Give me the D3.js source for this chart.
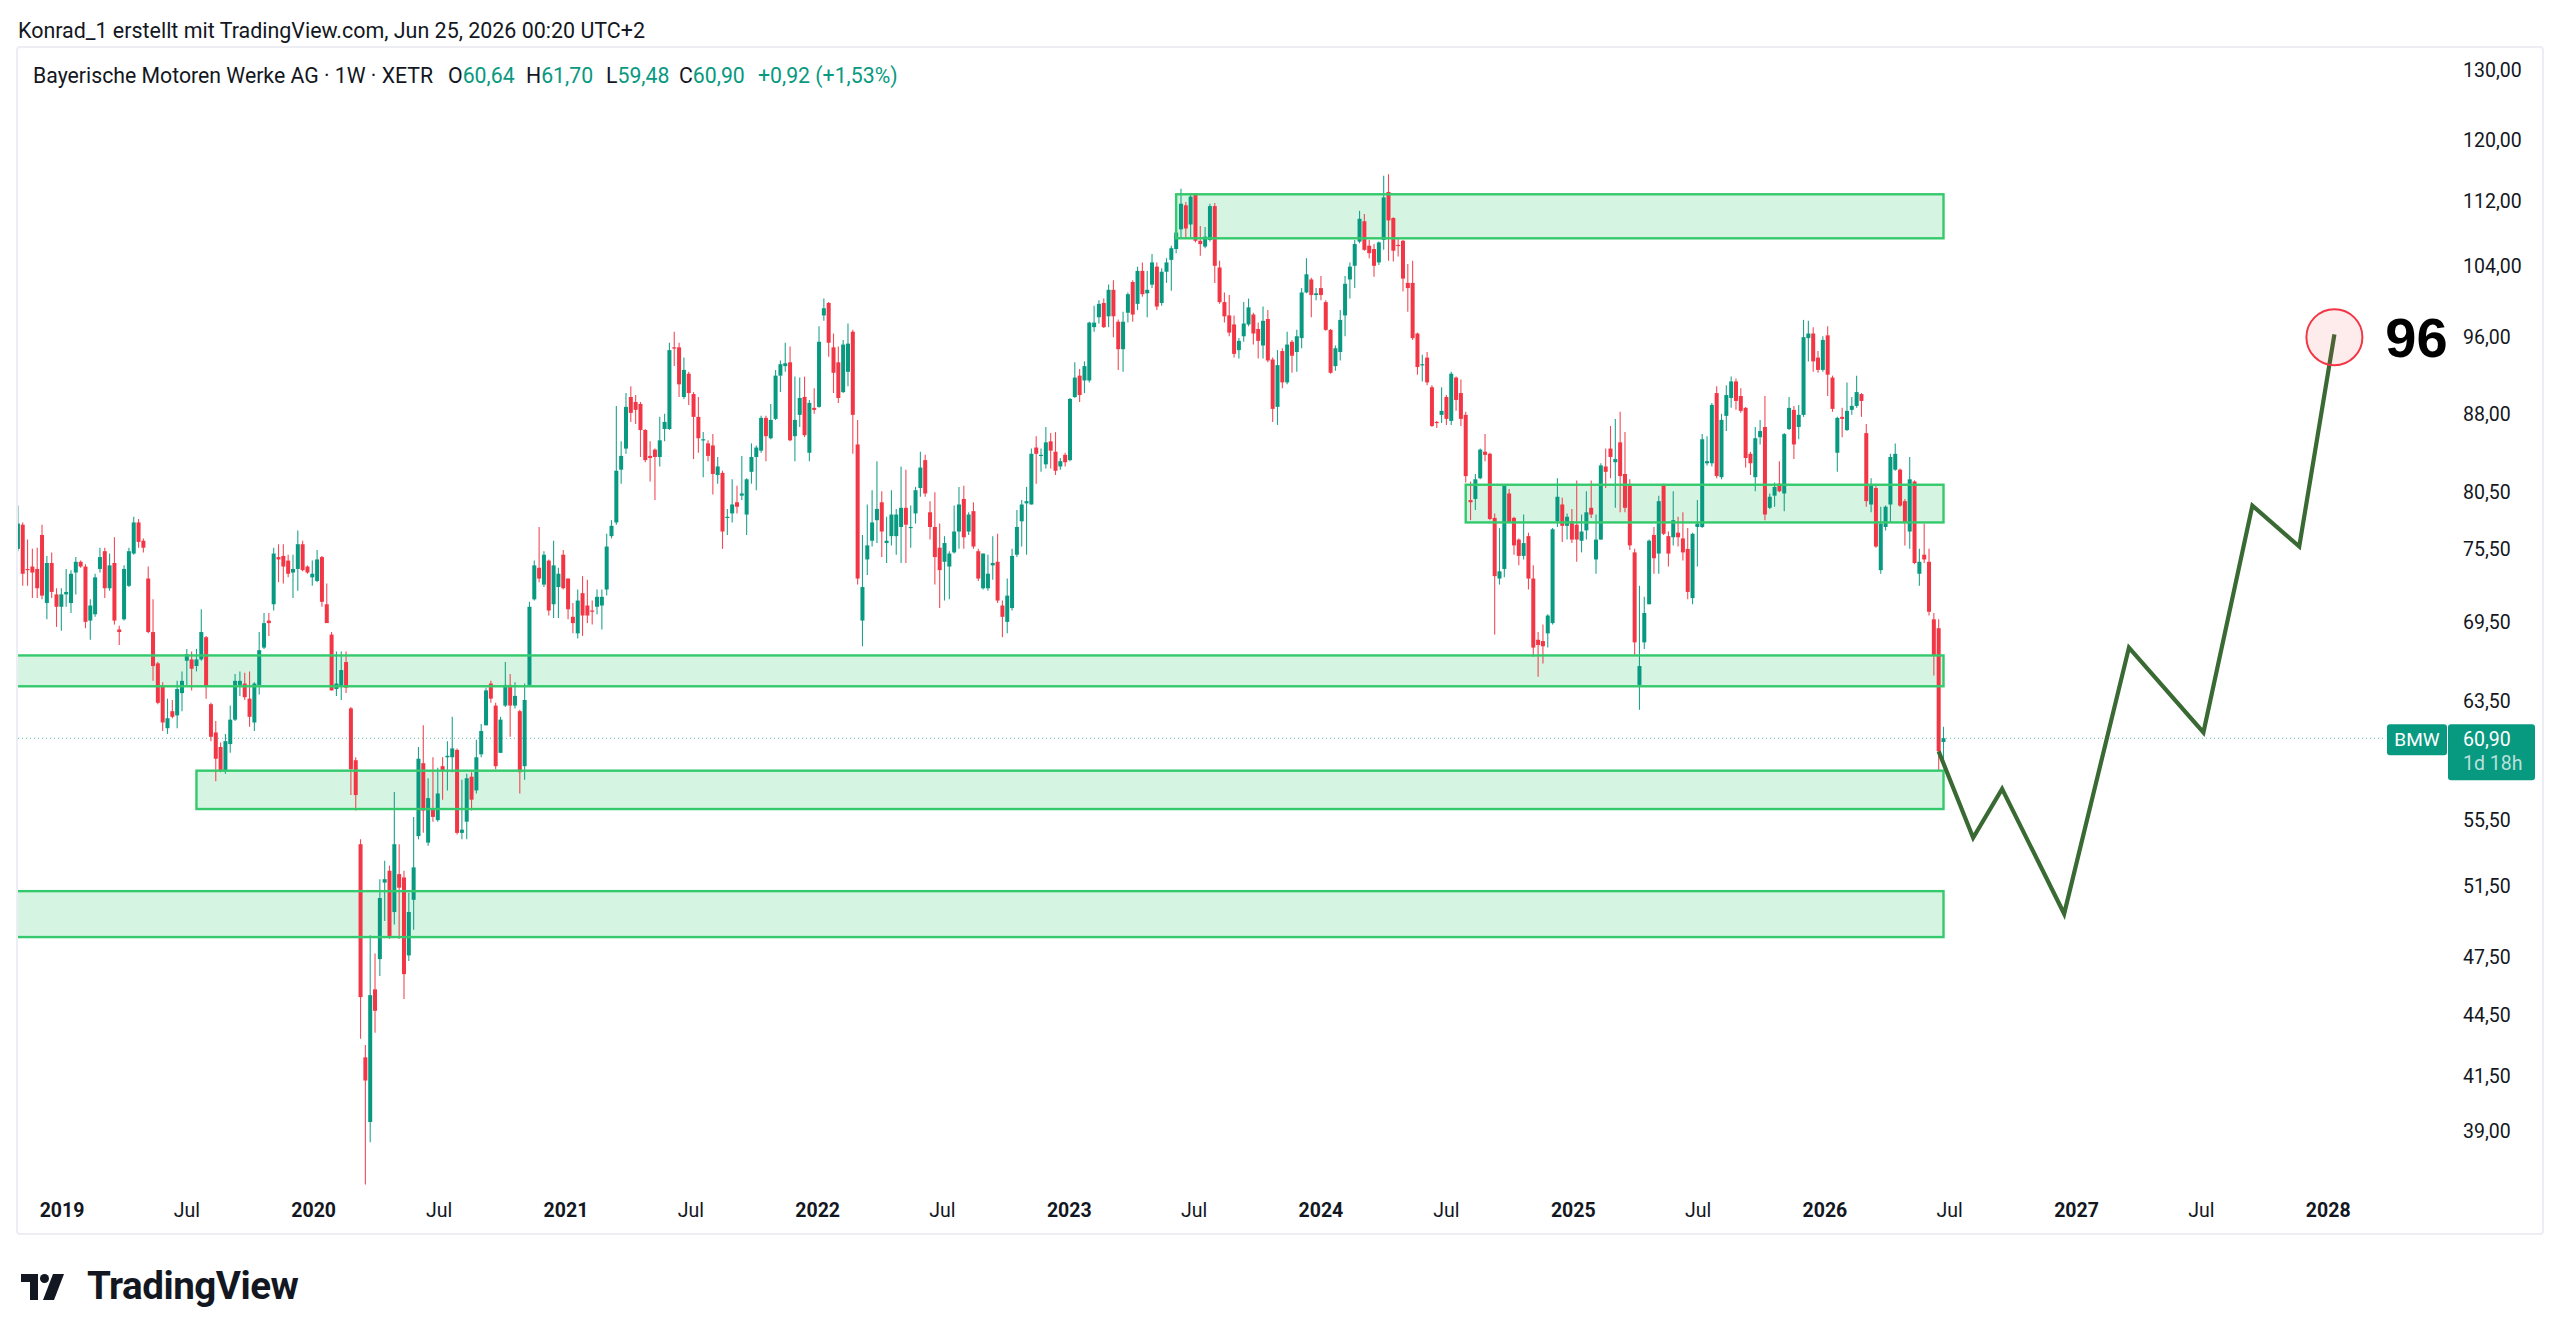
<!DOCTYPE html>
<html lang="de">
<head>
<meta charset="UTF-8">
<title>BMW 1W - TradingView</title>
<script src="https://d3js.org/d3.v7.min.js"></script>
<style>
  body { margin: 0; background: #fff; }
  svg { display: block; font-family: Roboto, "Noto Sans", sans-serif; }
</style>
</head>
<body>
<svg id="chart" width="2560" height="1340"></svg>
<script>
// weekly candles, first bar = week of 29 Oct 2018, last bar = week of 22 Jun 2026
const firstWeek = "2018-10-29";

const opens = [
  75.5,77.6,73.8,74.0,73.8,76.7,71.0,74.3,71.7,70.7, 71.7,71.0,73.5,74.4,74.0,69.6,70.1,73.8,75.3,72.2,
  74.3,68.9,69.7,72.4,75.1,77.8,76.2,73.0,68.7,66.3, 64.6,61.6,62.8,62.5,64.1,66.5,66.6,66.1,66.6,68.3,
  63.3,61.3,60.3,58.7,60.5,62.2,64.7,64.8,63.7,62.0, 64.7,67.5,69.6,70.9,74.8,74.9,74.5,73.5,73.8,75.9,
  74.0,73.1,72.8,74.8,70.9,68.5,64.4,64.6,66.4,63.0, 59.4,54.0,42.4,39.4,45.8,47.4,51.7,52.4,50.0,52.2,
  52.0,47.6,50.7,54.5,59.2,54.1,56.2,55.5,59.0,59.6, 59.6,60.1,54.7,55.4,58.3,57.4,59.8,61.8,64.8,63.2,
  59.9,63.2,64.7,63.2,62.8,59.0,64.7,71.3,73.9,72.5, 74.5,70.9,72.3,75.0,73.0,69.9,68.6,71.8,70.8,70.4,
  70.7,70.8,72.1,76.6,77.8,82.6,84.6,89.7,89.2,89.0, 86.4,83.9,84.5,83.8,86.5,86.5,94.9,94.9,89.7,92.1,
  90.0,87.7,85.4,85.1,84.9,82.1,82.3,78.2,78.6,79.6, 80.2,78.5,82.4,83.8,84.4,87.6,85.6,87.5,91.9,92.9,
  93.3,85.8,87.9,89.7,84.2,88.6,88.7,98.4,99.8,94.9, 93.3,90.2,92.3,96.6,85.0,69.6,74.6,76.2,78.0,79.6,
  76.0,76.6,76.6,77.4,79.1,77.3,78.6,80.9,83.5,78.7, 77.4,75.6,74.4,74.0,75.2,77.0,79.9,77.0,78.8,75.3,
  72.2,72.2,74.1,74.4,70.8,69.5,70.6,75.0,77.9,79.5, 79.4,84.7,83.9,83.1,85.3,84.3,82.9,84.0,83.5,89.7,
  91.9,91.4,91.4,97.1,98.2,99.8,98.3,101.3,97.7,94.7, 98.7,102.2,99.7,103.5,100.9,101.9,104.0,99.8,103.4,104.8,
  106.1,108.5,111.5,109.1,113.0,107.1,106.4,107.2,111.4,103.9, 99.9,98.4,97.4,94.6,96.1,97.4,98.5,96.9,95.1,98.0,
  93.6,88.7,94.5,91.2,95.5,94.4,95.9,101.0,102.5,100.7, 101.5,99.9,96.8,92.9,94.4,98.4,102.5,104.1,107.0,109.5,
  106.5,106.1,104.5,107.2,113.2,109.9,106.6,107.1,102.1,102.1, 96.4,93.0,93.8,90.7,87.2,87.9,89.7,87.3,91.7,90.1,
  87.9,79.8,79.9,81.8,84.3,84.1,78.2,73.0,73.8,80.4, 78.2,76.3,74.9,76.6,73.0,68.1,68.0,68.6,69.4,77.9,
  79.4,77.5,77.9,77.6,76.2,77.1,79.1,74.6,76.3,82.9, 84.6,83.3,85.2,82.2,81.1,75.2,64.7,67.9,70.9,76.7,
  75.1,81.2,76.6,76.5,76.9,76.4,75.5,71.4,77.4,77.4, 83.2,83.2,90.1,81.9,87.8,89.6,91.3,89.8,88.6,84.1,
  81.9,85.7,86.7,79.1,80.2,81.3,80.4,86.5,88.4,86.7, 87.9,95.9,96.4,93.8,92.5,96.2,91.7,84.2,87.7,86.4,
  88.4,88.8,90.0,86.1,79.4,80.9,73.7,77.4,79.4,82.6, 82.6,79.7,77.0,81.5,73.4,75.0,74.4,69.7,69.0,60.64
];
const highs = [
  79.3,77.8,76.3,75.5,75.6,77.6,74.9,75.2,72.2,72.2, 73.8,73.7,74.8,74.5,74.2,71.3,73.4,75.6,75.6,75.1,
  76.5,69.2,74.1,75.6,78.3,78.1,76.4,74.0,71.3,66.4, 64.9,63.7,63.6,65.0,65.7,67.4,67.2,67.4,70.5,68.4,
  63.4,62.1,60.6,61.2,63.2,65.5,65.7,65.6,65.7,64.9, 68.7,70.2,70.2,75.6,75.9,75.9,75.0,75.0,77.1,76.2,
  74.1,74.5,75.4,74.9,72.6,68.7,67.2,67.2,67.2,63.1, 59.6,54.3,43.0,48.7,47.7,51.9,53.0,52.7,57.3,54.0,
  52.4,51.1,55.7,60.3,61.8,58.2,59.6,58.9,59.6,60.7, 62.4,60.2,58.1,58.5,58.6,60.8,61.9,64.5,65.0,63.4,
  62.4,66.4,65.5,64.9,62.9,64.8,71.1,74.5,77.4,75.3, 74.6,76.2,73.9,75.4,73.0,71.0,72.1,73.2,72.9,71.2,
  72.1,72.1,76.8,78.0,88.8,85.3,90.1,90.8,89.9,89.2, 86.5,85.3,84.6,87.7,88.0,95.4,96.6,95.4,93.8,92.3,
  90.2,89.7,86.2,85.4,86.0,83.8,82.5,79.0,81.7,81.1, 83.9,81.8,85.1,84.9,87.8,87.8,89.0,92.5,93.5,95.4,
  95.0,91.8,91.7,91.8,89.4,90.6,97.2,100.3,99.9,96.4, 95.0,95.7,97.5,96.8,87.4,76.7,79.4,80.7,83.4,80.6,
  78.3,80.7,79.0,82.9,82.6,79.3,81.0,84.3,84.0,79.7, 80.5,77.7,76.6,75.3,79.3,81.0,81.1,78.7,79.6,75.5,
  75.1,75.0,76.6,76.8,71.2,73.0,75.5,78.9,79.8,81.0, 84.6,85.8,84.6,86.7,86.1,86.2,83.7,84.2,89.6,93.3,
  92.6,93.4,97.7,99.5,100.1,100.3,101.9,102.4,97.95,98.8, 101.0,102.4,104.0,104.5,103.5,105.5,104.5,103.8,105.0,106.5,
  108.9,113.6,111.9,113.0,113.0,108.9,108.8,111.7,111.8,104.7, 101.0,100.7,98.4,95.9,99.9,100.3,98.7,97.6,99.4,99.0,
  93.8,94.6,94.8,96.6,95.7,96.8,101.5,105.0,102.7,101.5, 102.9,100.1,96.9,95.1,99.0,102.9,104.5,107.2,110.8,110.4,
  107.2,106.7,107.0,115.3,115.5,110.0,107.4,107.2,104.3,104.7, 96.5,94.1,94.4,90.9,87.3,90.7,89.9,92.3,91.8,91.5,
  88.2,81.5,82.2,84.6,86.0,84.2,78.6,77.3,81.2,80.8, 78.3,76.4,78.5,76.9,74.1,68.7,69.3,70.1,77.3,81.8,
  80.0,78.6,79.0,81.6,78.5,80.6,81.6,78.5,83.2,84.6, 86.8,87.5,88.2,86.2,81.7,75.5,72.4,71.5,76.3,77.4,
  80.2,81.3,77.0,80.6,78.3,78.7,77.3,76.9,79.8,86.0, 85.8,89.1,90.8,88.0,90.9,91.8,91.6,90.6,88.7,84.3,
  86.7,87.4,89.8,80.4,81.4,83.4,86.1,89.7,88.8,88.9, 97.9,97.8,97.1,94.5,96.1,97.2,91.9,87.7,88.6,91.2,
  89.7,91.9,90.1,87.0,81.8,81.1,79.2,79.3,84.1,85.1, 82.7,79.9,83.8,81.6,75.5,77.7,75.5,70.2,69.7,61.70
];
const lows = [
  75.3,72.4,72.4,71.4,71.4,71.3,69.7,71.4,69.1,68.8, 70.7,70.2,71.7,73.9,69.0,68.1,69.9,73.5,71.4,72.0,
  69.3,67.7,69.6,72.3,75.0,75.6,75.2,68.6,65.0,63.3, 61.4,61.2,62.3,61.6,62.8,64.7,64.3,65.7,66.5,63.7,
  60.7,58.0,58.6,58.5,59.9,62.1,63.9,63.6,61.7,61.4, 64.0,67.4,68.4,70.4,72.7,72.6,73.1,71.4,72.0,73.6,
  73.4,72.4,72.7,70.7,69.4,64.3,63.9,63.6,64.1,57.1, 56.1,43.3,36.7,38.5,43.6,46.5,49.5,48.5,49.3,48.5,
  45.3,47.3,49.0,54.3,54.7,53.9,55.4,55.4,56.8,57.4, 58.6,54.6,54.3,54.3,56.1,57.2,59.6,61.8,63.4,58.8,
  59.9,63.1,61.0,63.0,57.2,58.1,64.6,71.2,72.7,72.3, 70.0,69.8,69.8,72.1,69.7,68.6,68.2,68.4,69.4,69.3,
  70.1,68.9,71.6,76.4,77.6,81.3,84.1,87.2,87.0,83.8, 83.3,81.5,79.8,82.9,85.3,86.4,92.9,89.7,89.5,88.9,
  83.6,84.2,81.9,83.4,80.3,81.3,75.5,76.7,77.8,78.6, 79.8,76.7,81.3,80.7,84.2,83.4,85.5,87.4,90.2,92.3,
  85.3,83.4,86.7,85.7,83.4,88.0,88.6,97.8,93.9,90.1, 89.1,90.1,90.8,84.1,72.5,67.6,73.3,75.7,76.0,74.8,
  74.3,75.8,75.0,74.3,74.3,75.6,77.7,80.1,80.1,76.3, 72.5,70.6,71.2,71.3,75.1,75.5,75.5,76.7,75.5,72.8,
  72.1,72.0,72.9,71.0,68.3,68.6,70.4,74.8,75.7,75.0, 79.4,81.3,82.4,82.7,82.7,82.1,82.6,82.9,83.4,89.6,
  89.2,90.1,91.2,96.6,97.5,97.0,97.1,96.0,92.5,92.3, 97.6,97.7,99.0,100.5,98.2,101.5,99.0,99.5,102.1,101.2,
  105.6,107.4,107.5,107.5,106.9,105.3,106.2,107.0,102.1,99.7, 97.6,96.1,93.8,93.7,95.5,97.2,95.2,93.7,93.7,93.3,
  87.2,86.9,90.6,91.0,92.2,92.3,94.8,100.9,98.2,100.1, 100.1,96.7,92.1,92.4,93.5,96.1,100.3,101.5,106.8,105.9,
  105.0,102.8,104.2,106.0,104.7,104.6,105.2,101.1,98.8,95.7, 92.0,91.3,90.9,86.7,86.6,87.1,86.9,86.9,88.3,86.8,
  81.4,78.0,78.9,81.7,83.4,78.0,68.5,72.5,73.1,77.8, 75.0,74.1,74.6,72.1,66.8,65.3,66.3,67.5,69.3,77.4,
  76.1,76.3,76.0,74.4,75.2,76.3,78.2,73.4,76.3,80.9, 81.8,79.1,78.7,78.7,75.4,66.9,62.9,67.4,70.9,73.4,
  73.4,76.7,74.0,75.8,75.7,74.5,71.3,70.9,74.0,77.3, 83.0,82.9,81.8,81.7,86.3,88.6,88.4,88.1,82.8,82.1,
  80.6,85.0,78.0,79.0,79.2,80.5,78.8,86.4,83.6,85.5, 87.7,93.4,92.3,92.2,92.3,89.8,88.2,82.4,85.7,86.3,
  87.9,88.6,87.7,79.2,78.7,75.6,73.4,77.1,77.8,82.5, 79.2,75.8,75.5,74.2,72.4,74.3,70.0,65.4,58.7,59.48
];
const closes = [
  77.7,73.4,73.7,73.5,72.2,71.6,74.3,71.9,70.7,71.7, 71.9,73.4,74.4,74.0,69.5,70.8,73.1,74.8,72.2,74.1,
  69.6,68.7,73.8,75.3,77.8,76.1,75.6,68.7,66.1,63.4, 62.0,62.3,62.4,64.4,65.0,67.0,65.9,66.6,68.7,64.6,
  61.0,59.5,58.7,60.7,62.2,65.0,65.0,63.8,62.4,64.8, 67.3,69.4,69.4,75.1,74.6,74.0,73.4,73.8,75.9,73.7,
  73.5,73.4,74.6,71.1,69.4,64.3,64.8,65.8,64.5,58.8, 57.1,45.4,41.3,45.5,44.7,50.8,51.9,48.6,54.0,51.4,
  46.6,50.0,52.6,59.5,56.1,56.9,55.7,57.2,58.7,59.7, 60.2,54.7,54.9,58.2,56.8,59.6,61.4,64.3,63.7,59.0,
  62.2,64.7,63.2,63.9,58.6,63.6,70.7,74.1,73.0,75.0, 70.4,74.1,73.4,72.2,70.5,69.4,71.2,70.0,70.0,70.3,
  71.5,71.5,75.7,77.5,82.5,83.9,88.7,88.1,88.4,86.4, 83.5,83.7,83.8,85.4,87.2,94.6,94.8,91.0,92.5,90.1,
  87.7,85.6,85.5,83.9,82.2,82.9,77.0,78.3,79.4,79.2, 80.4,81.7,83.8,84.7,87.6,85.8,87.4,91.9,93.1,93.2,
  85.4,87.4,89.6,85.9,89.1,88.4,95.5,99.2,95.4,92.2, 89.6,95.2,95.3,87.9,73.0,72.3,75.8,77.8,79.0,77.0,
  76.2,78.5,78.5,79.1,77.6,77.4,80.7,82.8,80.4,77.4, 74.8,73.7,76.0,75.1,77.0,79.4,76.5,78.5,75.7,73.0,
  75.1,73.4,74.3,71.2,69.9,71.6,74.9,77.4,79.4,79.7, 84.1,84.1,84.0,85.2,84.4,82.5,83.4,83.3,89.5,91.7,
  89.9,92.9,97.6,97.6,99.7,97.1,101.3,98.3,94.7,97.7, 100.8,98.5,103.5,100.8,101.3,104.5,99.4,103.4,104.5,106.2,
  108.1,111.7,108.6,112.6,107.1,106.7,107.6,111.4,104.1,99.9, 98.3,96.5,94.2,95.6,97.5,99.3,96.4,95.6,97.8,93.5,
  88.5,93.0,91.2,95.2,94.0,96.1,101.0,103.1,100.7,100.9, 100.7,96.8,92.2,94.8,97.9,102.0,104.0,106.7,109.8,106.0,
  105.6,104.1,106.9,112.5,109.6,105.9,106.5,102.6,101.5,95.9, 92.8,93.1,91.2,86.8,87.1,88.3,87.5,92.1,89.4,87.5,
  82.0,79.6,81.7,84.5,84.0,78.1,73.2,73.6,81.1,77.8, 75.8,74.9,76.0,73.0,67.5,67.7,67.6,70.0,77.2,80.1,
  77.5,78.3,76.3,76.3,77.0,78.7,78.5,76.3,83.0,82.4, 83.8,83.6,82.0,79.1,75.8,67.9,66.1,70.2,76.2,74.7,
  79.7,76.8,75.1,78.0,76.5,75.2,71.9,76.8,77.7,85.5, 83.4,88.9,82.0,87.4,89.9,91.3,89.3,88.3,83.7,83.2,
  85.6,86.3,78.5,80.1,81.0,80.6,86.0,88.6,85.0,87.9, 96.0,96.4,93.4,92.5,95.7,92.0,88.5,87.6,87.5,88.3,
  88.8,90.2,89.3,79.7,81.1,75.7,77.7,79.2,83.8,84.1, 79.3,77.8,81.7,74.3,74.4,74.6,70.3,66.9,60.0,60.90
];

const priceTicks = [130, 120, 112, 104, 96, 88, 80.5, 75.5, 69.5, 63.5, 55.5, 51.5, 47.5, 44.5, 41.5, 39];
const yearLabels = ["2019", "2020", "2021", "2022", "2023", "2024", "2025", "2026", "2027", "2028"];
const julyYears = [2019, 2020, 2021, 2022, 2023, 2024, 2025, 2026, 2027];

// support / resistance boxes
const zoneStart = ["2018-09-01", "2019-07-15", "2018-09-01", "2023-06-05", "2024-07-29"];
const zoneEnd   = ["2026-06-22", "2026-06-22", "2026-06-22", "2026-06-22", "2026-06-22"];
const zoneLow   = [48.6, 56.2, 64.6, 107.4, 77.8];
const zoneHigh  = [51.2, 58.7, 66.9, 112.9, 81.2];

// projected path
const pathDates  = ["2026-06-15", "2026-08-04", "2026-09-15", "2026-12-14", "2027-03-18", "2027-07-04", "2027-09-13", "2027-11-20", "2028-01-10"];
const pathValues = [60.0, 54.4, 57.5, 49.9, 67.5, 61.3, 79.3, 75.7, 96.3];
const targetDate = "2028-01-10";
const targetValue = 96;

const lastPrice = 60.90;

const UP = "#089981", DOWN = "#F23645", TXT = "#131722";

const svg = d3.select("#chart");

const x = d3.scaleUtc()
  .domain([new Date("2018-10-29"), new Date("2026-06-22")])
  .range([17.9, 1943.5]);
const y = d3.scaleLog().domain([130, 39]).range([70, 1131]);

const fmt = v => d3.format(".2f")(v).replace(".", ",");

function fit(sel, w) {
  const cur = sel.node().getComputedTextLength();
  const fs = parseFloat(sel.attr("font-size"));
  if (cur > 0) sel.attr("font-size", (fs * w / cur).toFixed(2));
  return sel;
}

// header
fit(svg.append("text")
  .attr("x", 18).attr("y", 30).attr("dy", "0.35em")
  .attr("font-size", 18).attr("fill", TXT)
  .text("Konrad_1 erstellt mit TradingView.com, Jun 25, 2026 00:20 UTC+2"), 627);

// chart frame
svg.append("rect")
  .attr("x", 17).attr("y", 47).attr("width", 2526).attr("height", 1187)
  .attr("rx", 3).attr("fill", "#fff").attr("stroke", "#eceef3").attr("stroke-width", 2);

svg.append("clipPath").attr("id", "plot")
  .append("rect").attr("x", 18).attr("y", 48).attr("width", 2430).attr("height", 1142);

const plot = svg.append("g").attr("clip-path", "url(#plot)");

const zones = zoneStart.map((s, i) => ({
  x0: x(new Date(s)), x1: x(new Date(zoneEnd[i])), y0: y(zoneHigh[i]), y1: y(zoneLow[i])
}));

plot.append("g").selectAll("rect").data(zones).join("rect")
  .attr("x", d => d.x0).attr("y", d => d.y0)
  .attr("width", d => d.x1 - d.x0).attr("height", d => d.y1 - d.y0)
  .attr("fill", "#d5f5e2");

// candles
const start = new Date(firstWeek);
const candles = opens.map((o, i) => ({
  date: d3.utcDay.offset(start, i * 7), o, h: highs[i], l: lows[i], c: closes[i]
}));

const cg = plot.append("g");
cg.selectAll("line").data(candles).join("line")
  .attr("x1", d => x(d.date)).attr("x2", d => x(d.date))
  .attr("y1", d => y(d.h)).attr("y2", d => y(d.l))
  .attr("stroke", d => d.c >= d.o ? UP : DOWN)
  .attr("stroke-opacity", 0.9)
  .attr("stroke-width", 1.1);

cg.selectAll("rect").data(candles).join("rect")
  .attr("x", d => x(d.date) - 2)
  .attr("width", 4)
  .attr("y", d => y(Math.max(d.o, d.c)))
  .attr("height", d => Math.max(1.2, Math.abs(y(d.o) - y(d.c))))
  .attr("fill", d => d.c >= d.o ? UP : DOWN);

plot.append("g").selectAll("rect").data(zones).join("rect")
  .attr("x", d => d.x0).attr("y", d => d.y0)
  .attr("width", d => d.x1 - d.x0).attr("height", d => d.y1 - d.y0)
  .attr("fill", "none").attr("stroke", "#34c96c").attr("stroke-width", 2.4);

// last price dotted line
svg.append("line")
  .attr("x1", 18).attr("x2", 2386)
  .attr("y1", y(lastPrice)).attr("y2", y(lastPrice))
  .attr("stroke", UP).attr("stroke-opacity", 0.7)
  .attr("stroke-width", 1).attr("stroke-dasharray", "1 3");

// projection
const pts = pathDates.map((d, i) => [x(new Date(d)), y(pathValues[i])]);
svg.append("path")
  .attr("d", d3.line()(pts))
  .attr("fill", "none").attr("stroke", "#3a6a33")
  .attr("stroke-width", 4.2).attr("stroke-linejoin", "miter");

const tx = x(new Date(targetDate)), ty = y(targetValue);
svg.append("circle")
  .attr("cx", tx).attr("cy", ty).attr("r", 28)
  .attr("fill", "rgba(242,54,69,0.1)").attr("stroke", DOWN).attr("stroke-width", 2);
svg.append("text")
  .attr("x", tx + 82).attr("y", ty).attr("dy", "0.36em")
  .attr("text-anchor", "middle")
  .attr("font-family", "'Liberation Sans', Arial, sans-serif")
  .attr("font-weight", 700).attr("font-size", 56).attr("fill", "#000")
  .text(String(targetValue));

// legend line
const legendY = 76;
const title = svg.append("text")
  .attr("x", 33).attr("y", legendY).attr("dy", "0.35em")
  .attr("font-size", 18).attr("fill", TXT)
  .text("Bayerische Motoren Werke AG \u00b7 1W \u00b7 XETR");
fit(title, 400);
const lfs = title.attr("font-size");

const legendItems = [
  { k: "O", v: "60,64", x: 448 },
  { k: "H", v: "61,70", x: 526 },
  { k: "L", v: "59,48", x: 606 },
  { k: "C", v: "60,90", x: 679 },
  { k: "", v: "+0,92 (+1,53%)", x: 758 }
];
legendItems.forEach(it => {
  const t = svg.append("text")
    .attr("x", it.x).attr("y", legendY).attr("dy", "0.35em")
    .attr("font-size", lfs);
  t.append("tspan").attr("fill", TXT).text(it.k);
  t.append("tspan").attr("fill", UP).text(it.v);
});

// price scale labels
svg.append("g").selectAll("text").data(priceTicks).join("text")
  .attr("x", 2463).attr("y", d => y(d)).attr("dy", "0.35em")
  .attr("font-size", 19.5).attr("fill", TXT)
  .text(fmt);

// last price labels
const ly = y(lastPrice);
svg.append("rect").attr("x", 2387).attr("y", ly - 14).attr("width", 60).attr("height", 31)
  .attr("rx", 3).attr("fill", UP);
svg.append("text").attr("x", 2417).attr("y", ly + 1.5).attr("dy", "0.35em")
  .attr("text-anchor", "middle").attr("font-size", 19).attr("fill", "#fff").text("BMW");
svg.append("rect").attr("x", 2448).attr("y", ly - 14).attr("width", 87).attr("height", 56)
  .attr("rx", 3).attr("fill", UP);
svg.append("text").attr("x", 2463).attr("y", ly + 1).attr("dy", "0.35em")
  .attr("font-size", 19.5).attr("fill", "#fff").text(fmt(lastPrice));
svg.append("text").attr("x", 2463).attr("y", ly + 25).attr("dy", "0.35em")
  .attr("font-size", 19.5).attr("fill", "rgba(255,255,255,0.72)").text("1d 18h");

// time axis
const axisY = 1210;
svg.append("g").selectAll("text").data(yearLabels).join("text")
  .attr("x", d => x(new Date(d + "-01-01"))).attr("y", axisY).attr("dy", "0.35em")
  .attr("text-anchor", "middle").attr("font-size", 19.5).attr("font-weight", 700)
  .attr("fill", TXT).text(d => d);
svg.append("g").selectAll("text").data(julyYears).join("text")
  .attr("x", d => x(new Date(d + "-07-01"))).attr("y", axisY).attr("dy", "0.35em")
  .attr("text-anchor", "middle").attr("font-size", 19.5)
  .attr("fill", TXT).text("Jul");

// TradingView logo
const logo = svg.append("g").attr("transform", "translate(21,1274)");
logo.append("path").attr("d", "M0 0H17V26H9V8H0Z").attr("fill", TXT);
logo.append("circle").attr("cx", 23.5).attr("cy", 4.5).attr("r", 4.5).attr("fill", TXT);
logo.append("path").attr("d", "M32 0H43L33 26H22Z").attr("fill", TXT);
fit(svg.append("text")
  .attr("x", 87).attr("y", 1299)
  .attr("font-size", 36).attr("font-weight", 700).attr("fill", TXT)
  .attr("letter-spacing", -0.5)
  .text("TradingView"), 211);
</script>
</body>
</html>
